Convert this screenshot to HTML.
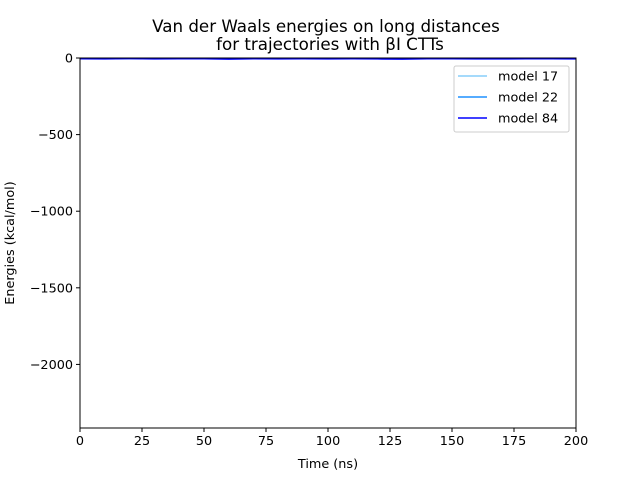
<!DOCTYPE html>
<html><head><meta charset="utf-8"><style>body{margin:0;background:#fff}svg{display:block;font-family:"DejaVu Sans","Liberation Sans",sans-serif}</style></head>
<body>
<svg id="chart" width="640" height="480" viewBox="0 0 640 480">
<text x="326" y="32" font-size="16.7" text-anchor="middle">Van der Waals energies on long distances</text>
<text x="330" y="50" font-size="16.7" text-anchor="middle">for trajectories with βI CTTs</text>
<g id="plot"></g>
<g id="axes"></g>
<text x="328" y="468" font-size="12.8" text-anchor="middle">Time (ns)</text>
<text transform="translate(14,243) rotate(-90)" font-size="12.8" text-anchor="middle">Energies (kcal/mol)</text>
<g>
<rect x="454" y="66" width="115" height="66" rx="2" fill="#fff" stroke="#ccc"/>
<g><line x1="458" y1="76" x2="487" y2="76" stroke="#87cefa" stroke-width="1.5"/><text x="498" y="80.5" font-size="12.8">model 17</text></g>
<g><line x1="458" y1="97" x2="487" y2="97" stroke="#1e90ff" stroke-width="1.5"/><text x="498" y="101.5" font-size="12.8">model 22</text></g>
<g><line x1="458" y1="118" x2="487" y2="118" stroke="#0000ff" stroke-width="1.5"/><text x="498" y="122.5" font-size="12.8">model 84</text></g>
</g>
</svg>
<script>
const times=[0,10,20,30,40,50,60,70,80,90,100,110,120,130,140,150,160,170,180,190,200];
const model17=[-2,-3,-2,-3,-2,-3,-2,-2,-3,-2,-3,-2,-2,-3,-2,-2,-3,-2,-2,-3,-2];
const model22=[-3,-4,-3,-4,-5,-3,-4,-4,-3,-4,-3,-5,-4,-3,-4,-3,-4,-4,-3,-4,-3];
const model84=[-5,-6,-4,-6,-5,-5,-7,-5,-6,-5,-6,-5,-6,-7,-5,-5,-6,-6,-5,-5,-6];
const xTicks=[0,25,50,75,100,125,150,175,200];
const yTicks=[0,-500,-1000,-1500,-2000];
const X0=80,X1=576,Y0=58,Y1=428,YMAX=0,YMIN=-2415;
const xs=v=>X0+(v-0)/200*(X1-X0);
const ys=v=>Y0+(YMAX-v)/(YMAX-YMIN)*(Y1-Y0);
const NS="http://www.w3.org/2000/svg";
const plot=document.getElementById('plot'),axes=document.getElementById('axes');
function mk(t,a,p){const e=document.createElementNS(NS,t);for(const k in a)e.setAttribute(k,a[k]);p.appendChild(e);return e;}
[[model17,'#87cefa','model-17'],[model22,'#1e90ff','model-22'],[model84,'#0000ff','model-84']].forEach(([d,c,n])=>{
 const p=mk('polyline',{points:d.map((v,i)=>xs(times[i])+','+ys(v)).join(' '),fill:'none',stroke:c,'stroke-width':1.5},plot);
 
 
});
const f=mk('rect',{x:X0,y:Y0,width:X1-X0,height:Y1-Y0,fill:'none',stroke:'#000','stroke-width':1},axes);


xTicks.forEach(t=>{const x=xs(t);
 mk('line',{x1:x,y1:Y1,x2:x,y2:Y1+4,stroke:'#000'},axes);
 const tx=mk('text',{x:x,y:Y1+17,'font-size':12.8,'text-anchor':'middle'},axes);tx.textContent=t;
 
 
});
yTicks.forEach(t=>{const y=ys(t);
 mk('line',{x1:X0-4,y1:y,x2:X0,y2:y,stroke:'#000'},axes);
 const tx=mk('text',{x:X0-7,y:y+4.5,'font-size':12.8,'text-anchor':'end'},axes);tx.textContent=t<0?'\u2212'+(-t):t;
 
 
});
</script>
</body></html>
